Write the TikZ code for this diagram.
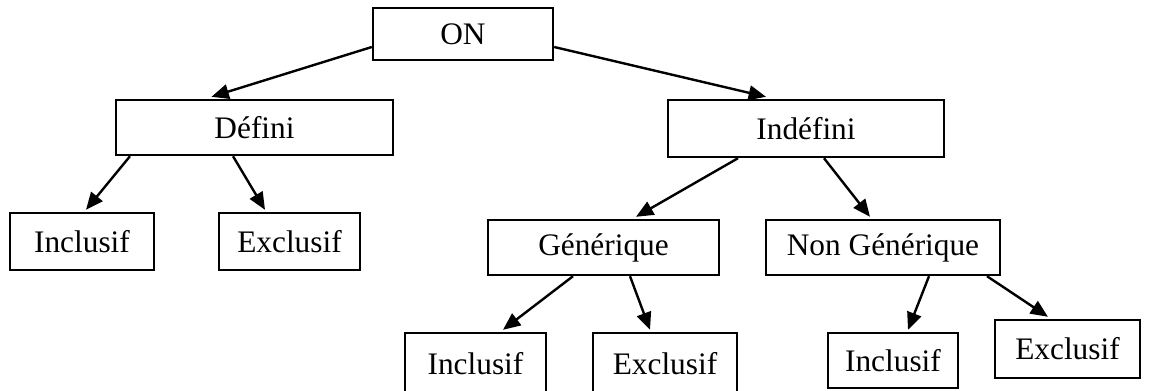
\documentclass[tikz,border=0pt]{standalone}
\usepackage{fontspec}
\setmainfont{Liberation Serif}
\usetikzlibrary{arrows.meta,calc}

\tikzset{
  box/.style={draw, line width=1.8pt, inner sep=0pt, font=\fontsize{23.5}{28}\selectfont},
  arr/.style={-{Triangle[length=13pt,width=11pt]}, line width=1.8pt}
}

\begin{document}
\begin{tikzpicture}[x=0.75pt, y=-0.75pt]
                \useasboundingbox (0,0) rectangle (1158,390);

                % Root
                \node[box, minimum width=135pt, minimum height=39pt] (on) at (463, 34) {ON};

                % Second level
                \node[box, minimum width=207.75pt, minimum height=41.25pt] (def) at (254.5, 127.5) {Défini};
                \node[box, minimum width=207pt, minimum height=42.75pt] (indef) at (806, 128.5) {Indéfini};

                % Third level
                \node[box, minimum width=108pt, minimum height=42.75pt] (incA) at (82, 241.5) {Inclusif};
                \node[box, minimum width=105.75pt, minimum height=42.75pt] (excA) at (289.5, 241.5) {Exclusif};
                \node[box, minimum width=173.25pt, minimum height=41.25pt] (gen) at (603.5, 247.5) {Générique};
                \node[box, minimum width=175.5pt, minimum height=41.25pt] (ngen) at (883, 247.5) {Non Générique};

                % Leaves
                \node[box, minimum width=105.75pt, minimum height=46.5pt] (incB) at (475.5, 364) {Inclusif};
                \node[box, minimum width=108pt, minimum height=46.5pt] (excB) at (665, 364) {Exclusif};
                \node[box, minimum width=97.5pt, minimum height=41.25pt] (incC) at (893, 360.5) {Inclusif};
                \node[box, minimum width=108.75pt, minimum height=43.5pt] (excC) at (1067.5, 349) {Exclusif};

                % Connections from the root
                \draw[arr] ($(on.west)+(0,13)$) -- ($(def.north)+(-43,-2)$);
                \draw[arr] ($(on.east)+(0,13)$) -- ($(indef.north)+(-40,-2)$);

                % Connections below
                \foreach \a/\da/\b/\db in {def/-124.5/incA/4, def/-21.5/excA/-24.5,
                                           indef/-68/gen/32.5, indef/18/ngen/-13,
                                           gen/-30.5/incB/27.5, gen/26.5/excB/-15,
                                           ngen/46/incC/15, ngen/104/excC/-19.5} {
                    \draw[arr] ($(\a.south)+(\da,0)$) -- ($(\b.north)+(\db,-2)$);
                }
            \end{tikzpicture}
\end{document}
